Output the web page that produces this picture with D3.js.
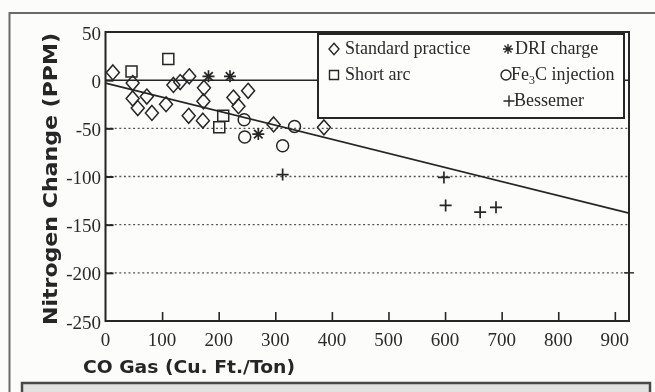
<!DOCTYPE html>
<html>
<head>
<meta charset="utf-8">
<script src="https://cdn.jsdelivr.net/npm/d3@7/dist/d3.min.js"></script>
<style>
  html, body { margin: 0; padding: 0; background: #fcfcfb; }
  svg { display: block; }
</style>
</head>
<body>
<svg id="chart" width="655" height="392"></svg>
<script>
// Nitrogen change vs. CO gas volume, by steelmaking practice
const xTicks = [0, 100, 200, 300, 400, 500, 600, 700, 800, 900];
const yTicks = [50, 0, -50, -100, -150, -200, -250];
const gridValues = [-50, -100, -150, -200];

// [CO gas (cu. ft./ton), nitrogen change (ppm)]
const standardPractice = [
  [13, 8], [48, -3], [48, -19], [57, -29], [82, -34], [73, -17], [107, -25],
  [120, -5], [132, -2], [148, 4], [147, -37], [172, -42], [173, -22], [174, -8],
  [226, -18], [235, -27], [252, -11], [297, -46], [386, -49]
];
const shortArc = [[46, 9], [111, 22], [208, -37], [201, -49]];
const driCharge = [[182, 4], [220, 4], [270, -56]];
const fe3cInjection = [[245, -41], [246, -59], [334, -48], [313, -68]];
const bessemer = [[313, -98], [598, -101], [601, -130], [662, -137], [690, -132]];

// fitted trend line endpoints
const trendLine = [[0, -3], [925, -138]];

const legendLabels = ["Standard practice", "Short arc", "DRI charge", "Fe3C injection", "Bessemer"];

const svg = d3.select("#chart");
const ink = "#262626";

const defs = svg.append("defs");
defs.append("filter").attr("id", "soft")
  .append("feGaussianBlur").attr("stdDeviation", 0.35);

const root = svg.append("g").attr("filter", "url(#soft)");

const x = d3.scaleLinear().domain([0, 925]).range([105.5, 629]);
const y = d3.scaleLinear().domain([-250, 50]).range([321, 32]);

// page frame
root.append("path")
  .attr("d", "M9.5,392 V13 H655")
  .attr("fill", "none").attr("stroke", "#6a6a6a").attr("stroke-width", 2);
root.append("rect")
  .attr("x", 22).attr("y", 383).attr("width", 628).attr("height", 14)
  .attr("fill", "#e2e2e0").attr("stroke", "#4a4a4a").attr("stroke-width", 2.5);

// dotted gridlines
root.append("g").selectAll("line").data(gridValues).join("line")
  .attr("x1", x(0)).attr("x2", x(925))
  .attr("y1", d => y(d)).attr("y2", d => y(d))
  .attr("stroke", "#555").attr("stroke-width", 1.3)
  .attr("stroke-dasharray", "2,2.6");

// zero reference line
root.append("line")
  .attr("x1", x(0)).attr("x2", x(925))
  .attr("y1", y(0)).attr("y2", y(0))
  .attr("stroke", ink).attr("stroke-width", 1.5);

// trend line
root.append("line")
  .attr("x1", x(trendLine[0][0])).attr("y1", y(trendLine[0][1]))
  .attr("x2", x(trendLine[1][0])).attr("y2", y(trendLine[1][1]))
  .attr("stroke", ink).attr("stroke-width", 1.7);

// plot frame
root.append("rect")
  .attr("x", x(0)).attr("y", y(50))
  .attr("width", x(925) - x(0)).attr("height", y(-250) - y(50))
  .attr("fill", "none").attr("stroke", ink).attr("stroke-width", 2);

// axes: ticks point into the plot
const xAxis = d3.axisTop(x).tickValues(xTicks.slice(1)).tickSize(9).tickFormat("");
root.append("g").attr("transform", `translate(0,${y(-250)})`).call(xAxis)
  .call(g => g.select(".domain").remove())
  .selectAll("line").attr("stroke", ink).attr("stroke-width", 1.6);

const yAxis = d3.axisRight(y).tickValues(yTicks.slice(1, -1)).tickSize(8).tickFormat("");
root.append("g").attr("transform", `translate(${x(0)},0)`).call(yAxis)
  .call(g => g.select(".domain").remove())
  .selectAll("line").attr("stroke", ink).attr("stroke-width", 2);

root.append("line")
  .attr("x1", x(925) - 5).attr("x2", x(925) + 5)
  .attr("y1", y(-200)).attr("y2", y(-200))
  .attr("stroke", ink).attr("stroke-width", 1.4);

// tick labels
root.append("g").selectAll("text").data(xTicks).join("text")
  .attr("x", d => x(d)).attr("y", 346)
  .attr("text-anchor", "middle")
  .attr("font-family", "Liberation Serif, serif").attr("font-size", 19)
  .attr("fill", "#2a2a2a").text(d => d);

root.append("g").selectAll("text").data(yTicks).join("text")
  .attr("x", 101).attr("y", d => y(d)).attr("dy", "0.4em")
  .attr("text-anchor", "end")
  .attr("font-family", "Liberation Serif, serif").attr("font-size", 19)
  .attr("fill", "#2a2a2a").text(d => d);

// axis titles
root.append("text")
  .attr("x", 83).attr("y", 373)
  .attr("font-family", "DejaVu Sans, sans-serif").attr("font-weight", "bold")
  .attr("font-size", 18).attr("fill", "#262626")
  .attr("textLength", 212).attr("lengthAdjust", "spacingAndGlyphs")
  .text("CO Gas (Cu. Ft./Ton)");

root.append("text")
  .attr("transform", "translate(57,325) rotate(-90)")
  .attr("font-family", "DejaVu Sans, sans-serif").attr("font-weight", "bold")
  .attr("font-size", 20).attr("fill", "#262626")
  .attr("textLength", 292).attr("lengthAdjust", "spacingAndGlyphs")
  .text("Nitrogen Change (PPM)");

// marker shapes
const markers = {
  diamond: r => `M0,${-r * 1.15}L${r},0L0,${r * 1.15}L${-r},0Z`,
  square: r => `M${-r},${-r}H${r}V${r}H${-r}Z`,
  circle: r => `M${r},0A${r},${r} 0 1,1 ${-r},0A${r},${r} 0 1,1 ${r},0Z`,
  plus: r => `M${-r},0H${r}M0,${-r}V${r}`,
  star: r => {
    let p = "";
    for (let i = 0; i < 4; i++) {
      const a = i * Math.PI / 4;
      const dx = r * Math.cos(a), dy = r * Math.sin(a);
      p += `M${-dx},${-dy}L${dx},${dy}`;
    }
    return p;
  }
};

function drawSeries(data, shape, r, sw) {
  root.append("g").selectAll("path").data(data).join("path")
    .attr("transform", d => `translate(${x(d[0])},${y(d[1])})`)
    .attr("d", markers[shape](r))
    .attr("fill", "none").attr("stroke", ink).attr("stroke-width", sw);
}

drawSeries(standardPractice, "diamond", 6.5, 1.5);
drawSeries(shortArc, "square", 5.5, 1.5);
drawSeries(fe3cInjection, "circle", 6, 1.5);
drawSeries(driCharge, "star", 6, 1.7);
drawSeries(bessemer, "plus", 6, 1.7);

// legend
const lg = root.append("g");
lg.append("rect")
  .attr("x", 318).attr("y", 34).attr("width", 306).attr("height", 84)
  .attr("fill", "#fdfdfc").attr("stroke", ink).attr("stroke-width", 2);

const legendItems = [
  { shape: "diamond", r: 5, sx: 334, sy: 49, tx: 345, ty: 54, label: legendLabels[0] },
  { shape: "square", r: 4.5, sx: 334, sy: 75, tx: 345, ty: 80, label: legendLabels[1] },
  { shape: "star", r: 5, sx: 508, sy: 49, tx: 515, ty: 54, label: legendLabels[2] },
  { shape: "circle", r: 5, sx: 506, sy: 75, tx: 511, ty: 80, label: legendLabels[3] },
  { shape: "plus", r: 5.5, sx: 509, sy: 101, tx: 514, ty: 106, label: legendLabels[4] }
];

legendItems.forEach(it => {
  lg.append("path")
    .attr("transform", `translate(${it.sx},${it.sy})`)
    .attr("d", markers[it.shape](it.r))
    .attr("fill", "none").attr("stroke", ink).attr("stroke-width", 1.4);
  const t = lg.append("text")
    .attr("x", it.tx).attr("y", it.ty)
    .attr("font-family", "Liberation Serif, serif").attr("font-size", 18)
    .attr("fill", "#2a2a2a");
  if (it.label === "Fe3C injection") {
    t.append("tspan").text("Fe");
    t.append("tspan").attr("font-size", 12).attr("dy", 4).text("3");
    t.append("tspan").attr("dy", -4).text("C injection");
  } else {
    t.text(it.label);
  }
});
</script>
</body>
</html>
